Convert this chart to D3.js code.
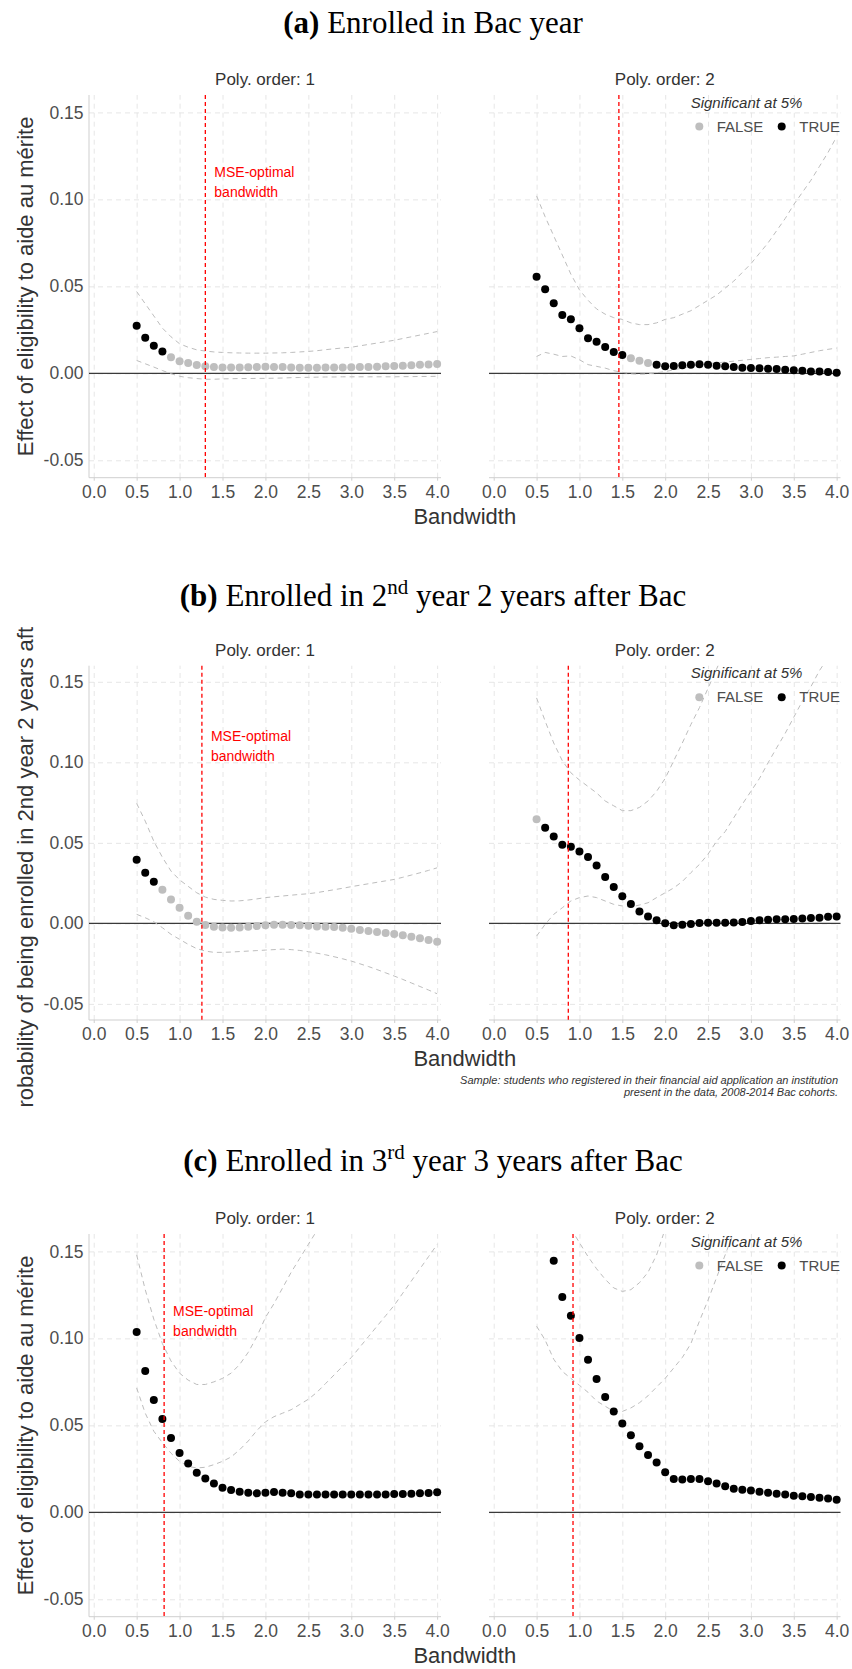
<!DOCTYPE html>
<html>
<head>
<meta charset="utf-8">
<script src="https://cdn.jsdelivr.net/npm/d3@7"></script>
<style>
  body { margin: 0; background: #fff; }
  svg text { font-family: "Liberation Sans", Arial, Helvetica, sans-serif; }
</style>
</head>
<body>
<svg id="fig" width="852" height="1669"></svg>
<script>
// ---- data ----
var bandwidth = [0.5,0.6,0.7,0.8,0.9,1.0,1.1,1.2,1.3,1.4,1.5,1.6,1.7,1.8,1.9,2.0,2.1,2.2,2.3,2.4,
                 2.5,2.6,2.7,2.8,2.9,3.0,3.1,3.2,3.3,3.4,3.5,3.6,3.7,3.8,3.9,4.0];
var xTicks = [0,0.5,1,1.5,2,2.5,3,3.5,4];
var yTicks = [-0.05,0,0.05,0.10,0.15];

// (a) Enrolled in Bac year
var a1Est = [.0273,.0204,.0158,.0126,.0092,.0069,.0059,.0048,.0040,.0036,.0034,.0034,.0034,.0035,.0037,.0038,.0037,.0036,.0034,.0032,
             .0032,.0032,.0033,.0033,.0034,.0035,.0036,.0037,.0038,.0040,.0042,.0044,.0047,.0049,.0051,.0053];
var a1Hi  = [.047,.040,.033,.026,.021,.017,.015,.0135,.0128,.0123,.0120,.0118,.0117,.0116,.0116,.0116,.0117,.0118,.0120,.0123,
             .0126,.0130,.0136,.0141,.0146,.0150,.0158,.0166,.0174,.0182,.0190,.0200,.0210,.0220,.0230,.0240];
var a1Lo  = [.0074,.0055,.0036,.0016,-.0002,-.0017,-.0025,-.0030,-.0034,-.0034,-.0032,-.0031,-.0030,-.0030,-.0029,-.0029,-.0028,-.0027,-.0025,-.0024,
             -.0023,-.0022,-.0021,-.0021,-.0020,-.0020,-.0020,-.0020,-.0020,-.0020,-.0020,-.0019,-.0019,-.0018,-.0018,-.0017];
var a1Sig = [1,1,1,1,0,0,0,0,0,0,0,0,0,0,0,0,0,0,0,0,0,0,0,0,0,0,0,0,0,0,0,0,0,0,0,0];
var a1Mse = 1.30;

var a2Est = [.0555,.0483,.0403,.0336,.0311,.0259,.0202,.0181,.0151,.0122,.0105,.0086,.0073,.0059,.0050,.0040,.0042,.0046,.0050,.0052,
             .0050,.0044,.0040,.0036,.0032,.0031,.0029,.0027,.0025,.0021,.0017,.0015,.0011,.0010,.0008,.0004];
var a2Hi  = [.102,.090,.079,.068,.057,.048,.042,.037,.034,.032,.031,.029,.028,.028,.029,.031,.032,.034,.036,.039,
             .042,.045,.049,.053,.058,.063,.069,.075,.082,.089,.097,.104,.111,.119,.127,.136];
var a2Lo  = [.0097,.0120,.0110,.0097,.0100,.0078,.0050,.0040,.0030,.0015,.0006,-.0003,-.0005,-.0003,.0003,.0010,.0020,.0030,.0040,.0050,
             .0055,.0060,.0065,.0070,.0075,.0080,.0085,.0090,.0093,.0097,.0100,.0110,.0120,.0130,.0138,.0145];
var a2Sig = [1,1,1,1,1,1,1,1,1,1,1,0,0,0,1,1,1,1,1,1,1,1,1,1,1,1,1,1,1,1,1,1,1,1,1,1];
var a2Mse = 1.46;

// (b) Enrolled in 2nd year 2 years after Bac
var b1Est = [.0395,.0315,.0259,.0209,.0149,.0097,.0048,.0010,-.0010,-.0021,-.0025,-.0027,-.0025,-.0021,-.0017,-.0012,-.0008,-.0008,-.0010,-.0012,
             -.0014,-.0019,-.0021,-.0023,-.0027,-.0033,-.0041,-.0048,-.0054,-.0060,-.0066,-.0074,-.0083,-.0093,-.0103,-.0114];
var b1Hi  = [.0745,.0635,.0510,.0410,.0325,.0270,.0230,.0190,.0163,.0149,.0143,.0139,.0140,.0145,.0152,.0160,.0165,.0170,.0175,.0180,
             .0184,.0191,.0200,.0209,.0218,.0228,.0237,.0246,.0255,.0264,.0273,.0286,.0300,.0314,.0329,.0345];
var b1Lo  = [.0056,.0035,.0010,-.0027,-.0068,-.0099,-.0130,-.0157,-.0172,-.0180,-.0180,-.0178,-.0175,-.0172,-.0169,-.0166,-.0163,-.0160,-.0163,-.0168,
             -.0176,-.0185,-.0195,-.0207,-.0220,-.0234,-.0251,-.0268,-.0287,-.0307,-.0327,-.0348,-.0370,-.0392,-.0414,-.0437];
var b1Sig = [1,1,1,0,0,0,0,0,0,0,0,0,0,0,0,0,0,0,0,0,0,0,0,0,0,0,0,0,0,0,0,0,0,0,0,0];
var b1Mse = 1.26;

var b2Est = [.0646,.0594,.0540,.0488,.0476,.0447,.0412,.0360,.0288,.0226,.0168,.0120,.0074,.0043,.0019,.0000,-.0012,-.0008,-.0004,.0002,
             .0004,.0004,.0004,.0006,.0008,.0014,.0019,.0023,.0025,.0025,.0027,.0031,.0033,.0035,.0041,.0043];
var b2Hi  = [.140,.1256,.112,.101,.0935,.089,.085,.081,.076,.073,.070,.070,.072,.076,.082,.090,.101,.112,.1235,.134,
             .146,.158,.170,null,null,null,null,null,null,null,null,null,null,null,null,null];
var b2Lo  = [-.0079,-.0006,.0056,.0097,.0139,.0160,.0170,.0160,.0139,.0118,.0108,.0101,.0114,.0128,.0160,.0190,.0220,.0260,.0315,.0366,
             .0430,.0510,.0570,.0656,.0740,.0820,.0900,.0997,.1090,.1180,.1280,.1380,.1470,.1570,.1650,null];
var b2Sig = [0,1,1,1,1,1,1,1,1,1,1,1,1,1,1,1,1,1,1,1,1,1,1,1,1,1,1,1,1,1,1,1,1,1,1,1];
var b2Mse = 0.87;

// (c) Enrolled in 3rd year 3 years after Bac
var c1Est = [.1036,.0812,.0646,.0536,.0427,.0341,.0280,.0228,.0195,.0165,.0142,.0128,.0119,.0113,.0109,.0113,.0117,.0113,.0109,.0103,
             .0102,.0102,.0102,.0102,.0102,.0102,.0102,.0103,.0103,.0103,.0105,.0105,.0107,.0109,.0111,.0115];
var c1Hi  = [.148,.128,.111,.097,.087,.080,.076,.0735,.0735,.075,.077,.080,.085,.092,.101,.112,.120,.129,.138,.146,
             .154,.162,.170,null,null,null,null,null,null,null,null,null,null,null,null,null];
var c1Lo  = [.0715,.0570,.0466,.0400,.0340,.0293,.0264,.0255,.0259,.0274,.0293,.0318,.0360,.0410,.0470,.0520,.0550,.0570,.0590,.0620,
             .0650,.0690,.0740,.0790,.0840,.0890,.0950,.1010,.1070,.1130,.1190,.1260,.1330,.1400,.1470,.1540];
var c1Sig = [1,1,1,1,1,1,1,1,1,1,1,1,1,1,1,1,1,1,1,1,1,1,1,1,1,1,1,1,1,1,1,1,1,1,1,1];
var c1Mse = 0.82;

var c2Est = [null,null,.1446,.1238,.1130,.1002,.0877,.0766,.0663,.0580,.0510,.0443,.0380,.0330,.0287,.0230,.0192,.0188,.0192,.0192,
             .0178,.0165,.0150,.0136,.0130,.0125,.0119,.0113,.0107,.0102,.0096,.0092,.0088,.0084,.0080,.0073];
var c2Hi  = [null,null,null,null,.163,.155,.147,.140,.134,.129,.127,.128,.132,.138,.148,.163,null,null,null,null,
             null,null,null,null,null,null,null,null,null,null,null,null,null,null,null,null];
var c2Lo  = [.107,.099,.088,.081,.077,.073,.069,.064,.061,.058,.058,.060,.063,.067,.072,.077,.083,.089,.097,.110,
             .122,.135,.148,.161,null,null,null,null,null,null,null,null,null,null,null,null];
var c2Sig = [1,1,1,1,1,1,1,1,1,1,1,1,1,1,1,1,1,1,1,1,1,1,1,1,1,1,1,1,1,1,1,1,1,1,1,1];
var c2Mse = 0.925;

var yTitleMain = "Effect of eligibility to aide au mérite";
var yTitleB = "Probability of being enrolled in 2nd year 2 years after Bac";
var captionLines = ["Sample: students who registered in their financial aid application an institution",
                    "present in the data, 2008-2014 Bac cohorts."];

// ---- layout ----
var svg = d3.select("#fig");
var xDomain = [-0.055, 4.045], yDomain = [-0.06, 0.16];
var cols = [[89, 441], [489, 840.5]];
var rows = [
  {top: 95,     bottom: 477.7,  title: 33,   ylab: yTitleMain},
  {top: 665.7,  bottom: 1020,   title: 606,  ylab: yTitleB, clip: [626, 1108]},
  {top: 1234,   bottom: 1616.7, title: 1171, ylab: yTitleMain}
];
var panels = [
  [{est: a1Est, hi: a1Hi, lo: a1Lo, sig: a1Sig, mse: a1Mse}, {est: a2Est, hi: a2Hi, lo: a2Lo, sig: a2Sig, mse: a2Mse}],
  [{est: b1Est, hi: b1Hi, lo: b1Lo, sig: b1Sig, mse: b1Mse}, {est: b2Est, hi: b2Hi, lo: b2Lo, sig: b2Sig, mse: b2Mse}],
  [{est: c1Est, hi: c1Hi, lo: c1Lo, sig: c1Sig, mse: c1Mse}, {est: c2Est, hi: c2Hi, lo: c2Lo, sig: c2Sig, mse: c2Mse}]
];
var titleParts = [
  [["(a)", "b"], [" Enrolled in Bac year", ""]],
  [["(b)", "b"], [" Enrolled in 2", ""], ["nd", "sup"], [" year 2 years after Bac", ""]],
  [["(c)", "b"], [" Enrolled in 3", ""], ["rd", "sup"], [" year 3 years after Bac", ""]]
];

var defs = svg.append("defs");

function drawTitle(parts, y) {
  var t = svg.append("text")
    .attr("x", 433).attr("y", y)
    .attr("text-anchor", "middle")
    .style("font-family", "'Liberation Serif', 'Times New Roman', serif")
    .style("font-size", "31px")
    .attr("fill", "#000");
  var up = false;
  parts.forEach(function(p) {
    var s = t.append("tspan").text(p[0]);
    if (p[1] === "b") s.style("font-weight", "bold");
    if (p[1] === "sup") { s.style("font-size", "21px").attr("dy", -12); up = true; }
    else if (up) { s.attr("dy", 12); up = false; }
  });
}

function drawPanel(row, ri, ci, d) {
  var col = cols[ci];
  var xs = d3.scaleLinear().domain(xDomain).range(col);
  var ys = d3.scaleLinear().domain(yDomain).range([row.bottom, row.top]);
  var h = row.bottom - row.top;
  var g = svg.append("g");
  var clipId = "clip" + ri + ci;
  defs.append("clipPath").attr("id", clipId).append("rect")
    .attr("x", col[0]).attr("y", row.top).attr("width", col[1] - col[0]).attr("height", h);

  // grid
  var gx = g.append("g").attr("transform", "translate(0," + row.bottom + ")")
    .call(d3.axisBottom(xs).tickValues(xTicks).tickSize(-h).tickFormat(""));
  var gy = g.append("g").attr("transform", "translate(" + col[0] + ",0)")
    .call(d3.axisLeft(ys).tickValues(yTicks).tickSize(-(col[1] - col[0])).tickFormat(""));
  [gx, gy].forEach(function(a) {
    a.select(".domain").remove();
    a.selectAll("line").attr("stroke", "#e3e3e3").attr("stroke-width", 0.9).attr("stroke-dasharray", "5,4");
  });

  // axes
  var ax = g.append("g").attr("transform", "translate(0," + row.bottom + ")")
    .call(d3.axisBottom(xs).tickValues(xTicks).tickSize(3).tickPadding(4.5).tickFormat(function(v) { return v.toFixed(1); }));
  ax.select(".domain").attr("stroke", "#cfcfcf").attr("d", "M" + col[0] + ",0H" + col[1]);
  ax.selectAll("line").attr("stroke", "#cfcfcf");
  ax.selectAll("text").attr("fill", "#4d4d4d").style("font-size", "17.5px").style("font-family", "'Liberation Sans', Arial, sans-serif");

  if (ci === 0) {
    var ay = g.append("g").attr("transform", "translate(" + col[0] + ",0)")
      .call(d3.axisLeft(ys).tickValues(yTicks).tickSize(0).tickPadding(5.5).tickFormat(function(v) { return v.toFixed(2); }));
    ay.select(".domain").attr("stroke", "#cfcfcf").attr("d", "M0," + row.top + "V" + row.bottom);
    ay.selectAll("text").attr("fill", "#4d4d4d").style("font-size", "17.5px").style("font-family", "'Liberation Sans', Arial, sans-serif");
  }

  // zero line
  g.append("line").attr("x1", col[0]).attr("x2", col[1]).attr("y1", ys(0)).attr("y2", ys(0))
    .attr("stroke", "#3a3a3a").attr("stroke-width", 1.3);

  // confidence bounds
  var line = d3.line()
    .defined(function(p) { return p[1] !== null; })
    .x(function(p) { return xs(p[0]); })
    .y(function(p) { return ys(p[1]); });
  [d.hi, d.lo].forEach(function(arr) {
    g.append("path")
      .attr("d", line(bandwidth.map(function(b, i) { return [b, arr[i]]; })))
      .attr("clip-path", "url(#" + clipId + ")")
      .attr("fill", "none").attr("stroke", "#bdbdbd").attr("stroke-width", 1)
      .attr("stroke-dasharray", "5,4");
  });

  // estimates
  var pts = bandwidth.map(function(b, i) { return {b: b, v: d.est[i], s: d.sig[i]}; })
    .filter(function(p) { return p.v !== null; });
  g.selectAll("circle.pt").data(pts).enter().append("circle")
    .attr("class", "pt")
    .attr("cx", function(p) { return xs(p.b); })
    .attr("cy", function(p) { return ys(p.v); })
    .attr("r", 4)
    .attr("fill", function(p) { return p.s ? "#000" : "#bebebe"; });

  // MSE-optimal bandwidth
  g.append("line").attr("x1", xs(d.mse)).attr("x2", xs(d.mse)).attr("y1", row.top).attr("y2", row.bottom)
    .attr("stroke", "#ff0000").attr("stroke-width", 1.3).attr("stroke-dasharray", "4,3");
  if (ci === 0) {
    var lab = g.append("text").attr("fill", "#ff0000").style("font-size", "14px");
    lab.append("tspan").attr("x", xs(d.mse) + 9).attr("y", ys(0.11) - 10).attr("dy", "0.35em").text("MSE-optimal");
    lab.append("tspan").attr("x", xs(d.mse) + 9).attr("y", ys(0.11) + 10).attr("dy", "0.35em").text("bandwidth");
  }

  // strip label
  g.append("text").attr("x", (col[0] + col[1]) / 2).attr("y", row.top - 15.5).attr("dy", "0.35em")
    .attr("text-anchor", "middle").attr("fill", "#333").style("font-size", "17px")
    .text("Poly. order: " + (ci + 1));

  // legend
  if (ci === 1) {
    var lg = g.append("g");
    lg.append("text").attr("x", 690.7).attr("y", row.top + 7.5).attr("dy", "0.35em")
      .attr("fill", "#333").style("font-size", "15px").style("font-style", "italic")
      .text("Significant at 5%");
    [["FALSE", "#bebebe", 699.3, 716.7], ["TRUE", "#000", 781.7, 799.3]].forEach(function(k) {
      lg.append("circle").attr("cx", k[2]).attr("cy", row.top + 31.5).attr("r", 4).attr("fill", k[1]);
      lg.append("text").attr("x", k[3]).attr("y", row.top + 31.5).attr("dy", "0.35em")
        .attr("fill", "#4d4d4d").style("font-size", "15px").text(k[0]);
    });
  }
}

rows.forEach(function(row, ri) {
  drawTitle(titleParts[ri], row.title);
  panels[ri].forEach(function(d, ci) { drawPanel(row, ri, ci, d); });

  // x title
  svg.append("text").attr("x", (cols[0][0] + cols[1][1]) / 2).attr("y", row.bottom + 38.5).attr("dy", "0.35em")
    .attr("text-anchor", "middle").attr("fill", "#333").style("font-size", "22px").text("Bandwidth");

  // y title
  var cy = (row.top + row.bottom) / 2;
  var yt = svg.append("text")
    .attr("transform", "translate(25," + cy + ") rotate(-90)")
    .attr("dy", "0.35em").attr("text-anchor", "middle")
    .attr("fill", "#333").style("font-size", "22px").text(row.ylab);
  if (row.clip) {
    defs.append("clipPath").attr("id", "ylabclip" + ri).append("rect")
      .attr("x", 0).attr("y", row.clip[0]).attr("width", 60).attr("height", row.clip[1] - row.clip[0]);
    svg.append("g").attr("clip-path", "url(#ylabclip" + ri + ")").node().appendChild(yt.node());
  }
});

// caption under panel (b)
var cap = svg.append("text").attr("text-anchor", "end").attr("fill", "#333")
  .style("font-size", "11px").style("font-style", "italic");
captionLines.forEach(function(s, i) {
  cap.append("tspan").attr("x", 838).attr("y", 1080 + i * 11.7).attr("dy", "0.35em").text(s);
});
</script>
</body>
</html>
